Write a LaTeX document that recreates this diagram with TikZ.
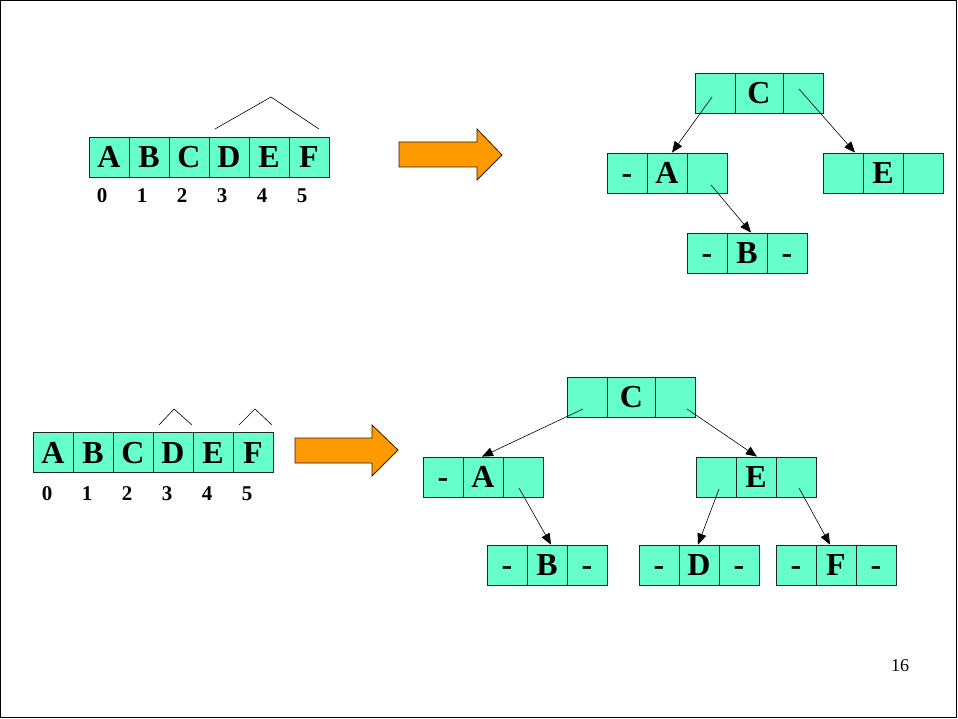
\documentclass[tikz,border=0pt]{standalone}
\usepackage{fontspec}
\setmainfont{Liberation Serif}
\usetikzlibrary{arrows.meta}
\definecolor{cellfill}{RGB}{102,255,204}
\definecolor{arrfill}{RGB}{255,153,0}
\tikzset{
  cell/.style={draw=black!85, line width=0.8pt, fill=cellfill, minimum height=40pt, minimum width=40pt, inner sep=0pt, text height=21pt, text depth=0pt, font=\bfseries\fontsize{32}{32}\selectfont},
  idx/.style={inner sep=0pt, font=\bfseries\fontsize{21}{21}\selectfont},
  ptr/.style={draw=black, line width=0.6pt, -{Triangle[length=11pt,width=9pt]}},
  hat/.style={draw=black, line width=0.6pt},
  fatarrow/.style={draw=black!80!orange, line width=0.8pt, fill=arrfill},
}
\begin{document}
\begin{tikzpicture}[x=1pt,y=-1pt]
\useasboundingbox (0,0) rectangle (958,719);
\draw[line width=1.2pt] (0.6,0.6) rectangle (956.5,717.5);

% ---------- top array ----------
\foreach \l [count=\i from 0] in {A,B,C,D,E,F} {
  \node[cell] (ta\i) at ({109+40*\i},157) {\l};
  \node[idx] (ti\i) at ({102+40*\i},196) {\i};
}
\coordinate (th1) at (215,129);
\coordinate (th2) at (271,97);
\coordinate (th3) at (319,129);
\draw[hat] (th1) -- (th2) -- (th3);

% top orange arrow
\draw[fatarrow] (399,142) -- (477,142) -- (477,129) -- (502,155) -- (477,180) -- (477,167) -- (399,167) -- cycle;

% ---------- top tree ----------
\node[cell] (tCl) at (715.5,93) {};
\node[cell, minimum width=48pt] (tCm) at (759,93) {C};
\node[cell] (tCr) at (803,93) {};

\node[cell] (tAl) at (627,173) {-};
\node[cell] (tAm) at (667,173) {A};
\node[cell] (tAr) at (707,173) {};

\node[cell] (tEl) at (843,173) {};
\node[cell] (tEm) at (883,173) {E};
\node[cell] (tEr) at (923,173) {};

\node[cell] (tBl) at (707,253) {-};
\node[cell] (tBm) at (747,253) {B};
\node[cell] (tBr) at (787,253) {-};

\draw[ptr] ([shift={(-3.5,4)}]tCl.center) -- ([shift={(5,0)}]tAm.north);
\draw[ptr] ([shift={(-4,-4)}]tCr.center) -- ([shift={(12,0)}]tEl.north);
\draw[ptr] ([shift={(4,12)}]tAr.center) -- ([shift={(4,0)}]tBm.north);

% ---------- bottom array ----------
\foreach \l [count=\i from 0] in {A,B,C,D,E,F} {
  \node[cell] (ba\i) at ({53+40*\i},452.5) {\l};
  \node[idx] (bi\i) at ({47+40*\i},494) {\i};
}
\coordinate (bh1) at (159,425);
\coordinate (bh2) at (174,409);
\coordinate (bh3) at (192,425);
\draw[hat] (bh1) -- (bh2) -- (bh3);
\coordinate (bh4) at (239,425);
\coordinate (bh5) at (255,409);
\coordinate (bh6) at (272,425);
\draw[hat] (bh4) -- (bh5) -- (bh6);

% bottom orange arrow
\draw[fatarrow] (295,438) -- (372,438) -- (372,425) -- (398,450) -- (372,476) -- (372,463) -- (295,463) -- cycle;

% ---------- bottom tree ----------
\node[cell] (bCl) at (587,397) {};
\node[cell, minimum width=49pt] (bCm) at (631.5,397) {C};
\node[cell] (bCr) at (675.5,397) {};

\node[cell] (bAl) at (443,477) {-};
\node[cell] (bAm) at (483,477) {A};
\node[cell] (bAr) at (523,477) {};

\node[cell] (bEl) at (716,477) {};
\node[cell] (bEm) at (756,477) {E};
\node[cell] (bEr) at (796,477) {};

\node[cell] (bBl) at (507,565) {-};
\node[cell] (bBm) at (547,565) {B};
\node[cell] (bBr) at (587,565) {-};

\node[cell] (bDl) at (659,565) {-};
\node[cell] (bDm) at (699,565) {D};
\node[cell] (bDr) at (739,565) {-};

\node[cell] (bFl) at (796,565) {-};
\node[cell] (bFm) at (836,565) {F};
\node[cell] (bFr) at (876,565) {-};

\draw[ptr] ([shift={(-4,12)}]bCl.center) -- ([shift={(-1,0)}]bAm.north);
\draw[ptr] ([shift={(11.5,12)}]bCr.center) -- ([shift={(1,0)}]bEm.north);
\draw[ptr] ([shift={(-4,11)}]bAr.center) -- ([shift={(4,0)}]bBm.north);
\draw[ptr] ([shift={(3,12)}]bEl.center) -- ([shift={(-1,0)}]bDm.north);
\draw[ptr] ([shift={(3,11)}]bEr.center) -- ([shift={(-6,0)}]bFm.north);

% page number
\node[font=\fontsize{18}{18}\selectfont, inner sep=0pt] (pgno) at (900,666) {16};
\end{tikzpicture}
\end{document}
